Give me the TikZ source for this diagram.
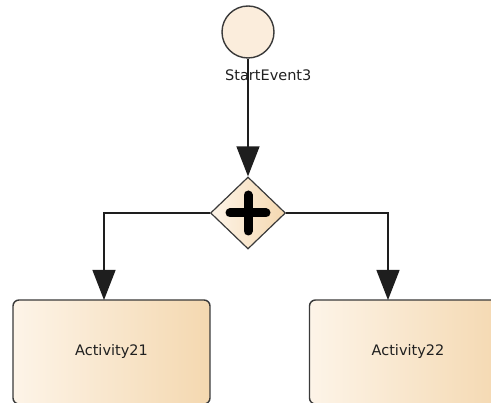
\documentclass[tikz,border=0pt]{standalone}
\usepackage{fontspec}
\setmainfont{DejaVu Sans}
\usetikzlibrary{arrows.meta,shapes.geometric}

\definecolor{edgegray}{HTML}{3A3A3A}
\definecolor{linegray}{HTML}{1E1E1E}
\definecolor{textgray}{HTML}{202020}
\definecolor{fillL}{HTML}{FDF4E8}
\definecolor{fillR}{HTML}{F4D8B0}
\definecolor{eventfill}{HTML}{FBEDDC}

\tikzset{
  flowbox/.style={draw=edgegray, line width=1.4pt, rounded corners=6pt,
    left color=fillL, right color=fillR,
    minimum width=197pt, minimum height=104pt, inner sep=0pt,
    font=\fontsize{14.5pt}{16pt}\selectfont, text=textgray},
  startev/.style={circle, draw=edgegray, line width=1.4pt, fill=eventfill,
    minimum size=52pt, inner sep=0pt},
  gateway/.style={diamond, draw=edgegray, line width=1.2pt,
    left color=fillL, right color=fillR,
    minimum width=75pt, minimum height=72pt, inner sep=0pt},
  evlabel/.style={font=\fontsize{14.5pt}{16pt}\selectfont, text=textgray,
    inner sep=0pt},
  conn/.style={draw=linegray, line width=1.3pt,
    -{Triangle[length=30pt,width=23pt]}},
  plusbar/.style={line width=9pt, line cap=round, draw=black}
}

\begin{document}
\begin{tikzpicture}[x=1pt, y=-1pt]
  \useasboundingbox (0,0) rectangle (491,403);
  \clip (0,0) rectangle (491,403);

  % start event and its label
  \node[startev] (start) at (248,32) {};
  \node[evlabel, anchor=base west] (startlbl) at (225,81) {StartEvent3};

  % parallel gateway
  \node[gateway] (gw) at (248,213) {};
  \draw[plusbar] (gw.center) ++(-18,0) -- ++(36,0);
  \draw[plusbar] (gw.center) ++(0,-18) -- ++(0,36);

  % activities
  \node[flowbox] (act1) at (111.5,352) {Activity21};
  \node[flowbox] (act2) at (408,352) {Activity22};

  % connector end points on the activity tops
  \coordinate (in1) at (104,300);
  \coordinate (in2) at (388,300);

  % sequence flows
  \draw[conn] (start) -- (gw.north);
  \draw[conn] (gw.west) -| (in1);
  \draw[conn] (gw.east) -| (in2);
\end{tikzpicture}
\end{document}
